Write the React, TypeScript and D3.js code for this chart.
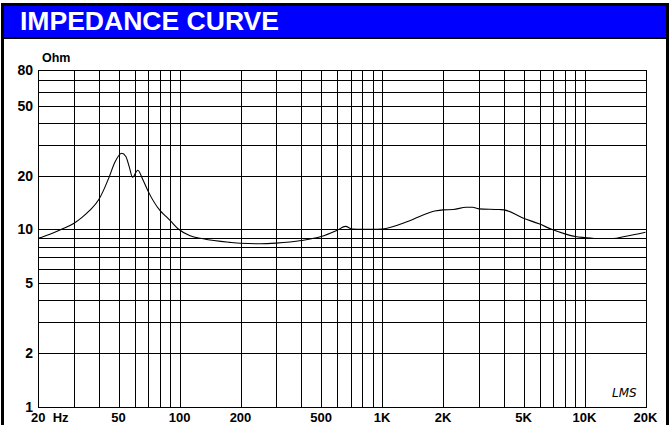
import React, { useEffect, useRef } from 'react';
import * as d3 from 'd3';

// Frecuencia (Hz) e impedancia (Ohm)
const freqs = [20, 22.9, 26, 30, 33, 36, 40, 42.5, 44.8, 48, 51.8, 54.3, 56.5, 58.6, 62.2, 66, 70, 80, 86, 90, 98.6, 112, 131, 177, 200, 250, 300, 400, 500, 600, 660, 712, 800, 900, 1000, 1370, 1820, 2000, 2250, 2600, 2800, 3000, 3800, 4000, 4960, 5960, 6980, 8000, 9000, 10000, 11880, 13840, 15800, 20000];
const ohms = [8.9, 9.4, 10.0, 10.8, 11.7, 12.8, 14.8, 17.0, 19.6, 24.0, 26.9, 25.8, 22.5, 19.7, 21.6, 19.0, 16.4, 12.8, 11.8, 11.2, 10.05, 9.25, 8.85, 8.45, 8.35, 8.3, 8.37, 8.66, 9.12, 9.9, 10.4, 10.05, 10.0, 10.0, 10.05, 11.2, 12.7, 12.9, 12.95, 13.35, 13.35, 13.07, 12.95, 12.9, 11.6, 10.75, 9.95, 9.44, 9.12, 9.0, 8.88, 8.88, 9.12, 9.64];

const xLabelValues = [20, 50, 100, 200, 500, 1000, 2000, 5000, 10000, 20000];
const xLabelTexts = ['20  Hz', '50', '100', '200', '500', '1K', '2K', '5K', '10K', '20K'];
const yLabelValues = [1, 2, 5, 10, 20, 50, 80];

const W = 670;
const H = 425;
const font = '"Liberation Sans", Arial, sans-serif';

const App = () => {
  const ref = useRef<SVGSVGElement | null>(null);

  useEffect(() => {
    const svg = d3.select(ref.current);
    svg.selectAll('*').remove();

    const left = 38, right = 645.5, top = 69.5, bottom = 406.5;
    const x = d3.scaleLog().domain([20, 20000]).range([left, right]);
    const y = d3.scaleLog().domain([1, 80]).range([bottom, top]);
    const px = (v: number) => Math.round(v) + 0.5;

    // fondo
    svg.append('rect').attr('width', W).attr('height', H).attr('fill', '#fff');

    // cabecera azul
    svg.append('rect')
      .attr('x', 4).attr('y', 6).attr('width', 662).attr('height', 31)
      .attr('fill', '#0000ff');
    svg.append('line')
      .attr('x1', 3).attr('x2', 667).attr('y1', 38).attr('y2', 38)
      .attr('stroke', '#000').attr('stroke-width', 2);
    svg.append('text')
      .attr('x', 20).attr('y', 30)
      .attr('fill', '#fff')
      .attr('textLength', 259)
      .attr('lengthAdjust', 'spacingAndGlyphs')
      .style('font-family', font)
      .style('font-size', '25px')
      .style('font-weight', 'bold')
      .text('IMPEDANCE CURVE');

    // marco exterior
    svg.append('rect')
      .attr('x', 2.5).attr('y', 4.5).attr('width', 665).attr('height', 440)
      .attr('fill', 'none').attr('stroke', '#000').attr('stroke-width', 3);

    // rejilla
    const g = svg.append('g').attr('shape-rendering', 'crispEdges');
    g.selectAll('.vline')
      .data(x.ticks())
      .enter()
      .append('line')
      .attr('x1', d => px(x(d))).attr('x2', d => px(x(d)))
      .attr('y1', px(top)).attr('y2', px(bottom))
      .attr('stroke', '#000').attr('stroke-width', 1);
    g.selectAll('.hline')
      .data(y.ticks())
      .enter()
      .append('line')
      .attr('y1', d => px(y(d))).attr('y2', d => px(y(d)))
      .attr('x1', px(left)).attr('x2', px(right))
      .attr('stroke', '#000').attr('stroke-width', 1);
    g.append('rect')
      .attr('x', px(left)).attr('y', px(top))
      .attr('width', px(right) - px(left)).attr('height', px(bottom) - px(top))
      .attr('fill', 'none').attr('stroke', '#000');

    // curva
    const line = d3.line<number>()
      .x((d, i) => x(freqs[i]))
      .y(d => y(d))
      .curve(d3.curveMonotoneX);
    svg.append('path')
      .attr('d', line(ohms))
      .attr('fill', 'none')
      .attr('stroke', '#000')
      .attr('stroke-width', 1.1);

    // etiquetas eje y
    svg.selectAll('.ylab')
      .data(yLabelValues)
      .enter()
      .append('text')
      .attr('x', 33)
      .attr('y', d => y(d) + 5)
      .attr('text-anchor', 'end')
      .style('font-family', font)
      .style('font-size', '14px')
      .style('font-weight', 'bold')
      .text(d => String(d));

    svg.append('text')
      .attr('x', 42).attr('y', 62)
      .style('font-family', font)
      .style('font-size', '12.5px')
      .style('font-weight', 'bold')
      .text('Ohm');

    // etiquetas eje x
    svg.selectAll('.xlab')
      .data(xLabelValues)
      .enter()
      .append('text')
      .attr('x', (d, i) => (i === 0 ? x(d) - 7 : x(d)))
      .attr('y', 422)
      .attr('text-anchor', (d, i) => (i === 0 ? 'start' : 'middle'))
      .attr('xml:space', 'preserve')
      .style('white-space', 'pre')
      .style('font-family', font)
      .style('font-size', '13px')
      .style('font-weight', 'bold')
      .text((d, i) => xLabelTexts[i]);

    // logo
    svg.append('text')
      .attr('x', 612).attr('y', 397)
      .style('font-family', '"DejaVu Sans", sans-serif')
      .style('font-size', '12px')
      .style('font-style', 'italic')
      .text('LMS');
  }, []);

  return (
    <svg
      ref={ref}
      width={W}
      height={H}
      style={{ position: 'absolute', left: 0, top: 0, display: 'block' }}
    />
  );
};

export default App;
